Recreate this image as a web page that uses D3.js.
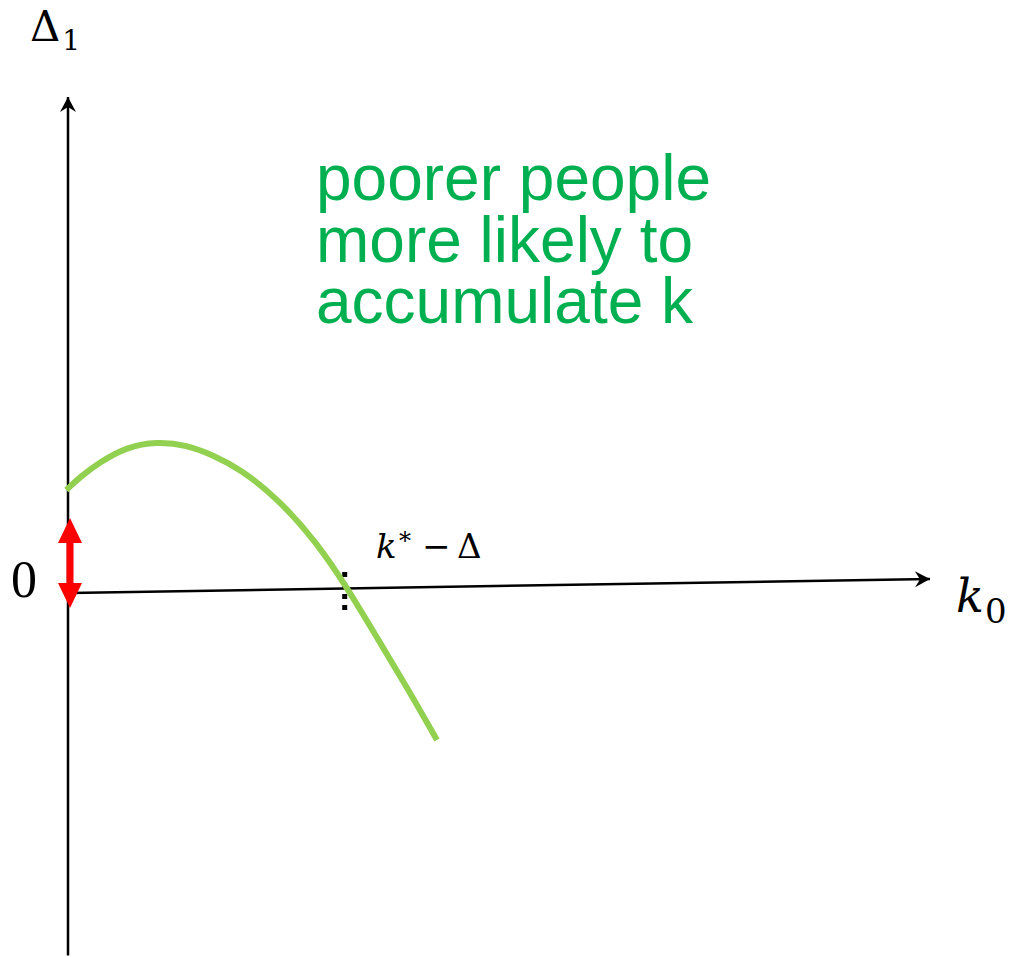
<!DOCTYPE html>
<html>
<head>
<meta charset="utf-8">
<script src="https://cdn.jsdelivr.net/npm/d3@7"></script>
<style>
  body { margin: 0; background: #fff; }
</style>
</head>
<body>
<div id="chart-area"></div>
<script>
// curve Δ1(k0)
const k0 = [-0.02, 0.14, 0.37, 0.68, 1.03, 1.38, 1.68, 2.0, 2.44, 2.89, 3.24, 3.58, 3.93, 4.28]
const delta1 = [2.06, 2.32, 2.62, 2.92, 3.03, 2.96, 2.76, 2.48, 1.88, 1.0, 0.1, -0.88, -1.88, -2.94]
const kStar = 3.21                 // k* - Δ, where the curve crosses zero
const gap = [-0.3, 1.5]           // red double arrow on the Δ1 axis
const textLines = ['poorer people', 'more likely to', 'accumulate k']

const canvas = { width: 1009, height: 957 }

const svg = d3.select('#chart-area')
    .append('svg')
    .attr('width', canvas.width)
    .attr('height', canvas.height)

const x = d3.scaleLinear().domain([0, 10]).range([68, 930])
const y = d3.scaleLinear().domain([-7.2, 10]).range([953, 93])

// arrowhead marker
svg.append('defs').append('marker')
    .attr('id', 'head')
    .attr('viewBox', '-16 -9 18 18')
    .attr('refX', 0).attr('refY', 0)
    .attr('markerWidth', 18).attr('markerHeight', 18)
    .attr('markerUnits', 'userSpaceOnUse')
    .attr('orient', 'auto')
    .append('path')
    .attr('d', 'M0,0 L-15,-8 L-10,0 L-15,8 Z')
    .attr('fill', '#000')

// axes
svg.append('line')
    .attr('x1', x(0)).attr('y1', y(-7.25))
    .attr('x2', x(0)).attr('y2', y(9.92))
    .attr('stroke', '#000').attr('stroke-width', 2.5)
    .attr('marker-end', 'url(#head)')

svg.append('line')
    .attr('x1', x(0.02)).attr('y1', y(0))
    .attr('x2', x(10)).attr('y2', y(0.28))
    .attr('stroke', '#000').attr('stroke-width', 2.5)
    .attr('marker-end', 'url(#head)')

// dotted marker at k* - Δ
svg.append('line')
    .attr('x1', x(kStar)).attr('y1', y(0.42))
    .attr('x2', x(kStar)).attr('y2', y(-0.42))
    .attr('stroke', '#000').attr('stroke-width', 5)
    .attr('stroke-dasharray', '5,6')

// green curve
const pts = k0.map((d, i) => [d, delta1[i]])
const line = d3.line()
    .x(d => x(d[0]))
    .y(d => y(d[1]))
    .curve(d3.curveBasis)

svg.append('path')
    .attr('d', line(pts))
    .attr('fill', 'none')
    .attr('stroke', '#92D050')
    .attr('stroke-width', 6)

// red double arrow
const cx = x(0) + 2
const yTop = y(gap[1]), yBot = y(gap[0])
const hl = 25, hw = 12, sw = 3.5
const arrow = [
    [cx, yTop], [cx + hw, yTop + hl], [cx + sw, yTop + hl], [cx + sw, yBot - hl],
    [cx + hw, yBot - hl], [cx, yBot], [cx - hw, yBot - hl], [cx - sw, yBot - hl],
    [cx - sw, yTop + hl], [cx - hw, yTop + hl]
]
svg.append('path')
    .attr('d', 'M' + arrow.join('L') + 'Z')
    .attr('fill', '#FF0000')

// labels
const serif = '"DejaVu Serif", "Liberation Serif", serif'

const d1 = svg.append('text')
    .attr('x', 30).attr('y', 41)
    .attr('font-family', serif)
    .attr('font-size', 42)
d1.append('tspan').text('Δ')
d1.append('tspan').attr('dy', 9).attr('dx', 2).attr('font-size', 28).text('1')

svg.append('text')
    .attr('x', 11).attr('y', 597)
    .attr('font-family', '"Liberation Serif", serif')
    .attr('font-size', 52)
    .text('0')

const kl = svg.append('text')
    .attr('x', 956).attr('y', 612)
    .attr('font-family', serif)
    .attr('font-size', 46)
kl.append('tspan').attr('font-style', 'italic').text('k')
kl.append('tspan').attr('dy', 11).attr('dx', 1).attr('font-size', 34).text('0')

const ks = svg.append('text')
    .attr('y', 558)
    .attr('font-family', serif)
    .attr('font-size', 34)
ks.append('tspan').attr('x', 376).attr('font-style', 'italic').text('k')
ks.append('tspan').attr('x', 399).attr('dy', -9).attr('font-size', 24).text('*')
ks.append('tspan').attr('x', 422).attr('dy', 9).text('−')
ks.append('tspan').attr('x', 457).text('Δ')

const note = svg.append('text')
    .attr('font-family', '"Liberation Sans", Arial, sans-serif')
    .attr('font-size', 64)
    .attr('fill', '#00B050')
note.selectAll('tspan')
    .data(textLines)
    .enter()
    .append('tspan')
    .attr('x', 316)
    .attr('y', (d, i) => 200 + i * 61.5)
    .text(d => d)
</script>
</body>
</html>
